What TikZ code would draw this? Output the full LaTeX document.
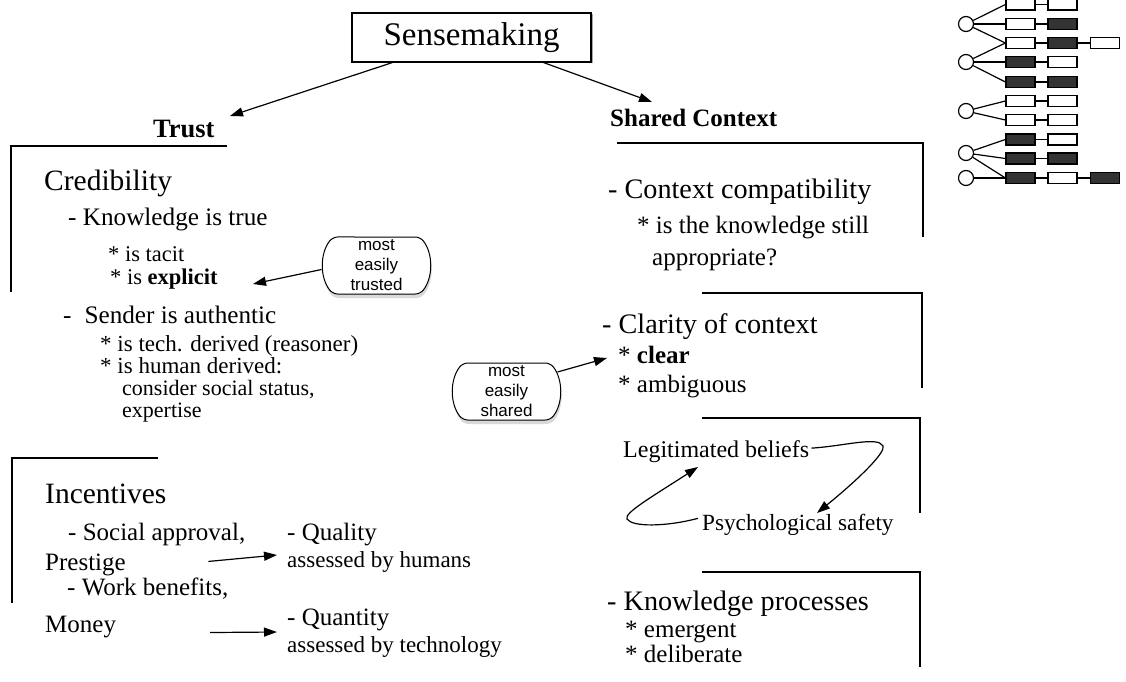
\documentclass[tikz,border=0pt]{standalone}
\usepackage{fontspec}
\setmainfont{Liberation Serif}
\newfontfamily\bubblefont{Liberation Sans}
\usetikzlibrary{arrows.meta,shapes.misc,shadows}
\newcommand{\fsz}[1]{\fontsize{#1}{#1}\selectfont}
\definecolor{cellgray}{HTML}{333333}
\begin{document}
\begin{tikzpicture}[x=1pt,y=-1pt,
 txt/.style={anchor=base west, inner sep=0pt},
 arr/.style={line width=1.2pt, -{Triangle[length=13pt,width=9pt]}},
 brk/.style={line width=1.1pt},
 bubble/.style={rounded rectangle, rounded rectangle arc length=75, rounded corners=5pt, draw, line width=1pt, fill=white,
   minimum width=107pt, minimum height=57pt, inner sep=0pt, align=center, font=\bubblefont\fontsize{17}{20}\selectfont,
   drop shadow={shadow xshift=1pt, shadow yshift=-4pt, opacity=0.3}},
 cell/.style={draw, line width=1.2pt, minimum width=29pt, minimum height=11pt, inner sep=0pt},
 wc/.style={cell, fill=white},
 bc/.style={cell, fill=cellgray},
 circ/.style={circle, draw, line width=1.2pt, minimum size=15pt, inner sep=0pt, fill=white},
 link/.style={line width=1.2pt}
]
\useasboundingbox (0,0) rectangle (1126,682);

% title box
\node[draw, line width=1.1pt, fill=white, minimum width=239pt, minimum height=49pt, inner sep=0pt,
  font=\fsz{33}, drop shadow={shadow xshift=1.5pt, shadow yshift=-1.5pt, opacity=0.7}] (sense) at (471.5,37.5) {Sensemaking};

% headings
\node[txt, font=\bfseries\fsz{26.5}] (trust) at (153,138) {Trust};
\node[txt, font=\bfseries\fsz{25}] (shared) at (610,127) {Shared Context};

\coordinate (trusttip) at (230,116);
\coordinate (sharedtip) at (652,102);
\draw[arr] (sense.south west) ++(41,0) -- (trusttip);
\draw[arr] (sense.south east) ++(-48,0) -- (sharedtip);

% brackets
\draw[brk] (227,146) -- (11,146) -- (11,292);
\draw[brk] (158,458) -- (12,458) -- (12,603);
\draw[brk] (617,143) -- (923,143) -- (923,237);
\draw[brk] (702,293) -- (922,293) -- (922,388);
\draw[brk] (702,418) -- (920,418) -- (920,513);
\draw[brk] (702,572) -- (920,572) -- (920,667);

% left column
\node[txt, font=\fsz{29.5}] (cred) at (44,190) {Credibility};
\node[txt, font=\fsz{25.2}] (ktrue) at (68,225) {- Knowledge is true};
\node[txt, font=\fsz{22.5}] (tacit) at (108,261.5) {* is tacit};
\node[txt, font=\fsz{22.5}] (expl) at (110,284) {* is \textbf{explicit}};
\node[txt, font=\fsz{25.2}] (sender) at (63,323) {-\hspace{13pt}Sender is authentic};
\node[txt, font=\fsz{23}] (tech) at (100,351) {* is tech. derived (reasoner)};
\node[txt, font=\fsz{23}] (human) at (100,373) {* is human derived:};
\node[txt, font=\fsz{22}] (social) at (122,395.5) {consider social status,};
\node[txt, font=\fsz{22}] (expert) at (122,417) {expertise};

\node[txt, font=\fsz{29.5}] (incent) at (45,503) {Incentives};
\node[txt, font=\fsz{25}] (approval) at (68,540) {- Social approval,};
\node[txt, font=\fsz{25}] (prestige) at (45,570) {Prestige};
\node[txt, font=\fsz{25}] (work) at (67,595) {- Work benefits,};
\node[txt, font=\fsz{25}] (money) at (45,632) {Money};
\node[txt, font=\fsz{25}] (quality) at (287,540) {- Quality};
\node[txt, font=\fsz{23}] (qualby) at (287,567) {assessed by humans};
\node[txt, font=\fsz{25}] (quantity) at (287,625) {- Quantity};
\node[txt, font=\fsz{23}] (quantby) at (287,652) {assessed by technology};

\coordinate (qualtip) at (277,555);
\coordinate (quanttip) at (277,632);
\draw[arr] (prestige.east) ++(82.5,-3) -- (qualtip);
\draw[arr] (money.east) ++(94,6) -- (quanttip);

% right column
\node[txt, font=\fsz{28.2}] (compat) at (608,198) {- Context compatibility};
\node[txt, font=\fsz{25}] (still) at (637,233) {* is the knowledge still};
\node[txt, font=\fsz{25}] (approp) at (652,265) {appropriate?};
\node[txt, font=\fsz{28.2}] (clarity) at (602,333) {- Clarity of context};
\node[txt, font=\fsz{25}] (clear) at (618,363) {* \textbf{clear}};
\node[txt, font=\fsz{25}] (ambig) at (618,392) {* ambiguous};
\node[txt, font=\fsz{24}] (legit) at (623,457) {Legitimated beliefs};
\node[txt, font=\fsz{23.2}] (psych) at (702,530) {Psychological safety};
\node[txt, font=\fsz{28.2}] (kproc) at (607,610) {- Knowledge processes};
\node[txt, font=\fsz{25}] (emerg) at (625,637) {* emergent};
\node[txt, font=\fsz{25}] (delib) at (625,662) {* deliberate};

\coordinate (psychtip) at (817,513);
\coordinate (legittip) at (698,467);
\draw[arr] (legit.east) ++(2,-3) .. controls (845,446) and (878,436) .. (883,446)
   .. controls (886,452) and (860,478) .. (psychtip);
\draw[arr] (psych.west) ++(-4,-6) .. controls (665,527) and (632,527) .. (627,519)
   .. controls (624,513) and (650,498) .. (legittip);

% bubbles
\node[bubble] (b1) at (376.5,265.5) {most\\easily\\trusted};
\node[bubble] (b2) at (506.5,391.5) {most\\easily\\shared};
\coordinate (expltip) at (253,284);
\coordinate (cleartip) at (607,358);
\draw[arr] (b1.west) ++(-1,4) -- (expltip);
\draw[arr] (b2) ++(51,-19.5) -- (cleartip);

% tree icon
\node[circ] (c1) at (966,24) {};
\node[circ] (c2) at (966,62) {};
\node[circ] (c3) at (966,111) {};
\node[circ] (c4) at (966,153) {};
\node[circ] (c5) at (966,178) {};

\node[wc] (r1a) at (1020.5,4.5) {};   \node[wc] (r1b) at (1062.5,4.5) {};
\node[wc] (r2a) at (1020.5,24) {};    \node[bc] (r2b) at (1062.5,24) {};
\node[wc] (r3a) at (1020.5,43) {};    \node[bc] (r3b) at (1062.5,43) {};  \node[wc] (r3c) at (1105,43) {};
\node[bc] (r4a) at (1020.5,62) {};    \node[wc] (r4b) at (1062.5,62) {};
\node[bc] (r5a) at (1020.5,82) {};    \node[bc] (r5b) at (1062.5,82) {};
\node[wc] (r6a) at (1020.5,101) {};   \node[wc] (r6b) at (1062.5,101) {};
\node[wc] (r7a) at (1020.5,120) {};   \node[wc] (r7b) at (1062.5,120) {};
\node[bc] (r8a) at (1020.5,139.5) {}; \node[wc] (r8b) at (1062.5,139.5) {};
\node[bc] (r9a) at (1020.5,158.5) {}; \node[bc] (r9b) at (1062.5,158.5) {};
\node[bc] (r10a) at (1020.5,178) {};  \node[wc] (r10b) at (1062.5,178) {}; \node[bc] (r10c) at (1105,178) {};

\foreach \r in {1,...,10} {\draw[link] (r\r a) -- (r\r b);}
\draw[link] (r3b) -- (r3c);
\draw[link] (r10b) -- (r10c);

\draw[link] (c1) -- (r1a.west);
\draw[link] (c1) -- (r2a.west);
\draw[link] (c1) -- (r3a.west);
\draw[link] (c2) -- (r3a.west);
\draw[link] (c2) -- (r4a.west);
\draw[link] (c2) -- (r5a.west);
\draw[link] (c3) -- (r6a.west);
\draw[link] (c3) -- (r7a.west);
\draw[link] (c4) -- (r8a.west);
\draw[link] (c4) -- (r9a.west);
\draw[link] (c4) -- (r10a.west);
\draw[link] (c5) -- (r10a.west);
\end{tikzpicture}
\end{document}
